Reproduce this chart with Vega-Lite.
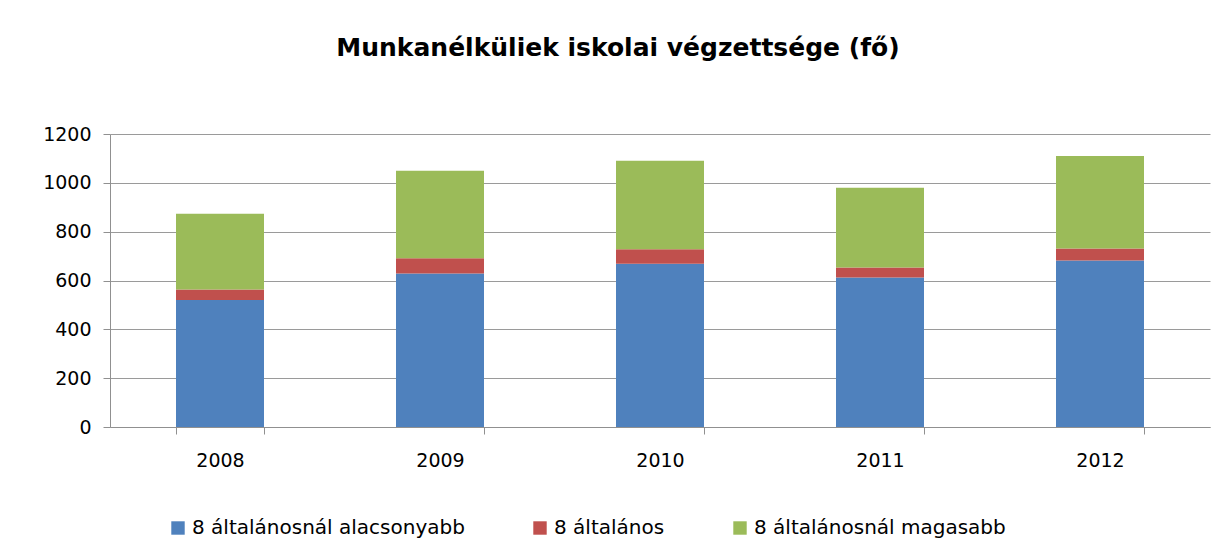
{
  "$schema": "https://vega.github.io/schema/vega-lite/v6.json",
  "width": 1100,
  "height": 293,
  "autosize": {"type": "none"},
  "padding": {"left": 110, "top": 134, "right": 11, "bottom": 123},
  "background": "white",
  "title": {
    "text": "Munkanélküliek iskolai végzettsége (fő)",
    "font": "DejaVu Sans",
    "fontSize": 25,
    "fontWeight": "bold",
    "color": "#000000",
    "anchor": "middle",
    "dx": -42,
    "offset": 64
  },
  "data": {
    "values": [
      {"ev": "2008", "kategoria": "8 általánosnál alacsonyabb", "rend": 1, "fo": 520},
      {"ev": "2008", "kategoria": "8 általános", "rend": 2, "fo": 43},
      {"ev": "2008", "kategoria": "8 általánosnál magasabb", "rend": 3, "fo": 310},
      {"ev": "2009", "kategoria": "8 általánosnál alacsonyabb", "rend": 1, "fo": 629},
      {"ev": "2009", "kategoria": "8 általános", "rend": 2, "fo": 62},
      {"ev": "2009", "kategoria": "8 általánosnál magasabb", "rend": 3, "fo": 358},
      {"ev": "2010", "kategoria": "8 általánosnál alacsonyabb", "rend": 1, "fo": 669},
      {"ev": "2010", "kategoria": "8 általános", "rend": 2, "fo": 59},
      {"ev": "2010", "kategoria": "8 általánosnál magasabb", "rend": 3, "fo": 362},
      {"ev": "2011", "kategoria": "8 általánosnál alacsonyabb", "rend": 1, "fo": 612},
      {"ev": "2011", "kategoria": "8 általános", "rend": 2, "fo": 41},
      {"ev": "2011", "kategoria": "8 általánosnál magasabb", "rend": 3, "fo": 327},
      {"ev": "2012", "kategoria": "8 általánosnál alacsonyabb", "rend": 1, "fo": 682},
      {"ev": "2012", "kategoria": "8 általános", "rend": 2, "fo": 49},
      {"ev": "2012", "kategoria": "8 általánosnál magasabb", "rend": 3, "fo": 379}
    ]
  },
  "mark": {"type": "bar"},
  "encoding": {
    "x": {
      "field": "ev",
      "type": "nominal",
      "scale": {"paddingInner": 0.6, "paddingOuter": 0.3},
      "axis": {
        "title": null,
        "labelAngle": 0,
        "labelFont": "DejaVu Sans",
        "labelFontSize": 19,
        "labelColor": "#000000",
        "labelPadding": 17,
        "domainColor": "#909090",
        "tickColor": "#909090",
        "tickSize": 7,
        "tickBand": "extent",
        "grid": false
      }
    },
    "y": {
      "field": "fo",
      "type": "quantitative",
      "stack": "zero",
      "scale": {"domain": [0, 1200], "nice": false},
      "axis": {
        "title": null,
        "format": "d",
        "values": [0, 200, 400, 600, 800, 1000, 1200],
        "labelFont": "DejaVu Sans",
        "labelFontSize": 19,
        "labelColor": "#000000",
        "labelPadding": 12,
        "domainColor": "#909090",
        "tickColor": "#909090",
        "tickSize": 7,
        "gridColor": "#9a9a9a",
        "gridWidth": 1
      }
    },
    "color": {
      "field": "kategoria",
      "type": "nominal",
      "scale": {
        "domain": ["8 általánosnál alacsonyabb", "8 általános", "8 általánosnál magasabb"],
        "range": ["#4F81BD", "#C0504D", "#9BBB59"]
      },
      "legend": {
        "title": null,
        "orient": "none",
        "direction": "horizontal",
        "legendX": 58,
        "legendY": 384,
        "symbolType": "square",
        "symbolSize": 180,
        "symbolStrokeWidth": 0,
        "labelFont": "DejaVu Sans",
        "labelFontSize": 20,
        "labelColor": "#000000",
        "labelLimit": 0,
        "labelOffset": 4,
        "columnPadding": 65
      }
    },
    "order": {"field": "rend", "type": "quantitative"}
  },
  "config": {
    "view": {"stroke": null}
  }
}
